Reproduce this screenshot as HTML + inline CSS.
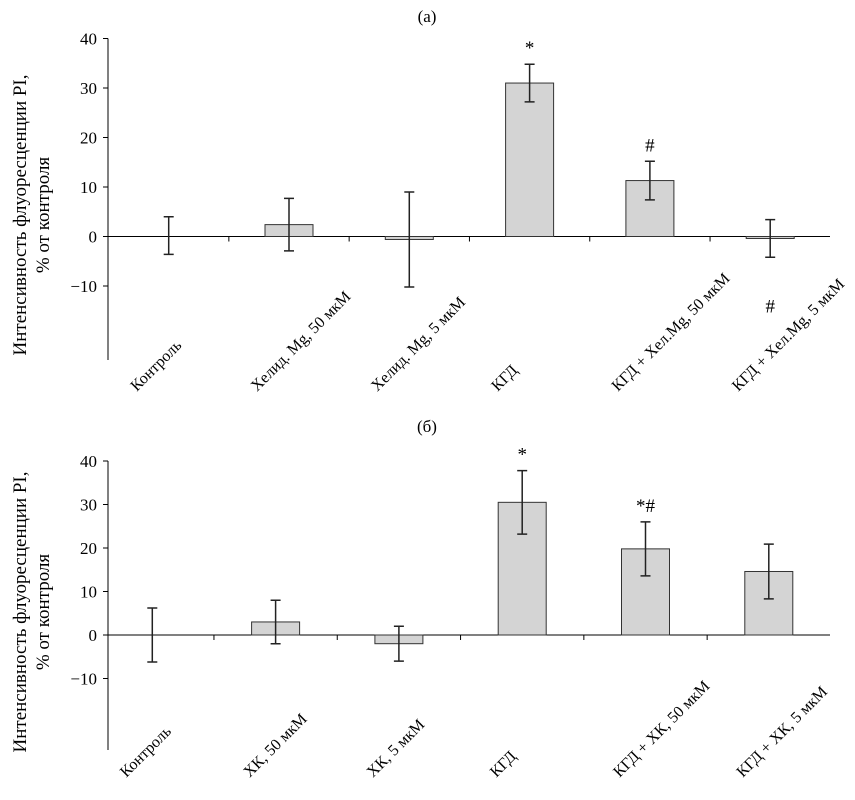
<!DOCTYPE html>
<html><head><meta charset="utf-8"><style>
body{margin:0;background:#fff}
svg{font-family:"Liberation Serif","Times New Roman",serif}
</style></head><body>
<svg id="s" width="855" height="795" xmlns="http://www.w3.org/2000/svg"></svg>
<script>
const catsA=["Контроль","Хелид. Mg, 50 мкМ","Хелид. Mg, 5 мкМ","КГД","КГД + Хел.Mg, 50 мкМ","КГД + Хел.Mg, 5 мкМ"];
const meanA=[0.2,2.4,-0.6,31,11.3,-0.4];
const errA=[3.8,5.3,9.6,3.8,3.9,3.8];
const markA=["","","","*","#",""];
const markBelowA=["","","","","","#"];
const catsB=["Контроль","ХК, 50 мкМ","ХК, 5 мкМ","КГД","КГД + ХК, 50 мкМ","КГД + ХК, 5 мкМ"];
const meanB=[0,3,-2,30.5,19.8,14.6];
const errB=[6.2,5,4,7.3,6.2,6.3];
const markB=["","","","*","*#",""];
const ticks=[-10,0,10,20,30,40];
const NS="http://www.w3.org/2000/svg";
const svg=document.getElementById('s');
function el(t,a,txt){const e=document.createElementNS(NS,t);for(const k in a)e.setAttribute(k,a[k]);if(txt!==undefined)e.textContent=txt;svg.appendChild(e);return e;}
function panel(p){
 const y=v=>p.y0-v*p.k; const x=i=>p.x0+i*p.dx;
 let e=el('text',{x:427,y:p.titleY,'font-size':17,'text-anchor':'middle'},p.title);
 
 e=el('line',{x1:108,y1:y(40),x2:108,y2:p.axisBottom,stroke:'#000'});
 
 e=el('line',{x1:108,y1:y(0),x2:830,y2:y(0),stroke:'#000'});
 
 ticks.forEach(t=>{
  let l=el('line',{x1:103,y1:y(t),x2:108,y2:y(t),stroke:'#000'});
  
  let tx=el('text',{x:97,y:y(t)+6,'font-size':17,'text-anchor':'end'},t<0?'−'+(-t):String(t));
  
 });
 for(let i=1;i<p.cats.length;i++){
  let l=el('line',{x1:x(i)-p.dx/2,y1:y(0),x2:x(i)-p.dx/2,y2:y(0)+5,stroke:'#000'});
  
 }
 p.cats.forEach((c,i)=>{
  const m=p.mean[i],cx=x(i);
  if(i>0){
   let r=el('rect',{x:cx-24,y:Math.min(y(m),y(0)),width:48,height:Math.abs(y(m)-y(0)),fill:'#d4d4d4',stroke:'#333','stroke-width':1});
   
  }
  const t=y(m+p.err[i]),b=y(m-p.err[i]);
  let g=el('path',{d:`M${cx},${t}V${b}M${cx-5},${t}H${cx+5}M${cx-5},${b}H${cx+5}`,stroke:'#222','stroke-width':1.5,fill:'none'});
  
  if(p.mark[i]){let s=el('text',{x:cx,y:t-10,'font-size':19,'text-anchor':'middle'},p.mark[i]);
   }
  if(p.below&&p.below[i]){let s=el('text',{x:cx,y:b+55,'font-size':19,'text-anchor':'middle'},p.below[i]);
   }
  let lx=cx-p.lOff,ly=p.labelY;
  let lb=el('text',{x:lx,y:ly,'font-size':16,transform:`rotate(-45 ${lx} ${ly})`},c);
  
 });
 let yt=el('text',{'font-size':19,'text-anchor':'middle',transform:`translate(26 ${p.tc}) rotate(-90)`},'Интенсивность флуоресценции PI,');
 
 let yt2=el('text',{'font-size':19,'text-anchor':'middle',transform:`translate(49 ${p.tc}) rotate(-90)`},'% от контроля');
 
}
panel({cats:catsA,mean:meanA,err:errA,mark:markA,below:markBelowA,y0:236.5,k:4.95,x0:168.7,dx:120.3,axisBottom:360,titleY:22,title:'(а)',labelY:392,lOff:32,tc:215});
panel({cats:catsB,mean:meanB,err:errB,mark:markB,y0:635,k:4.35,x0:152.3,dx:123.3,axisBottom:750,titleY:432,title:'(б)',labelY:778,lOff:26,tc:612});
</script>
</body></html>
